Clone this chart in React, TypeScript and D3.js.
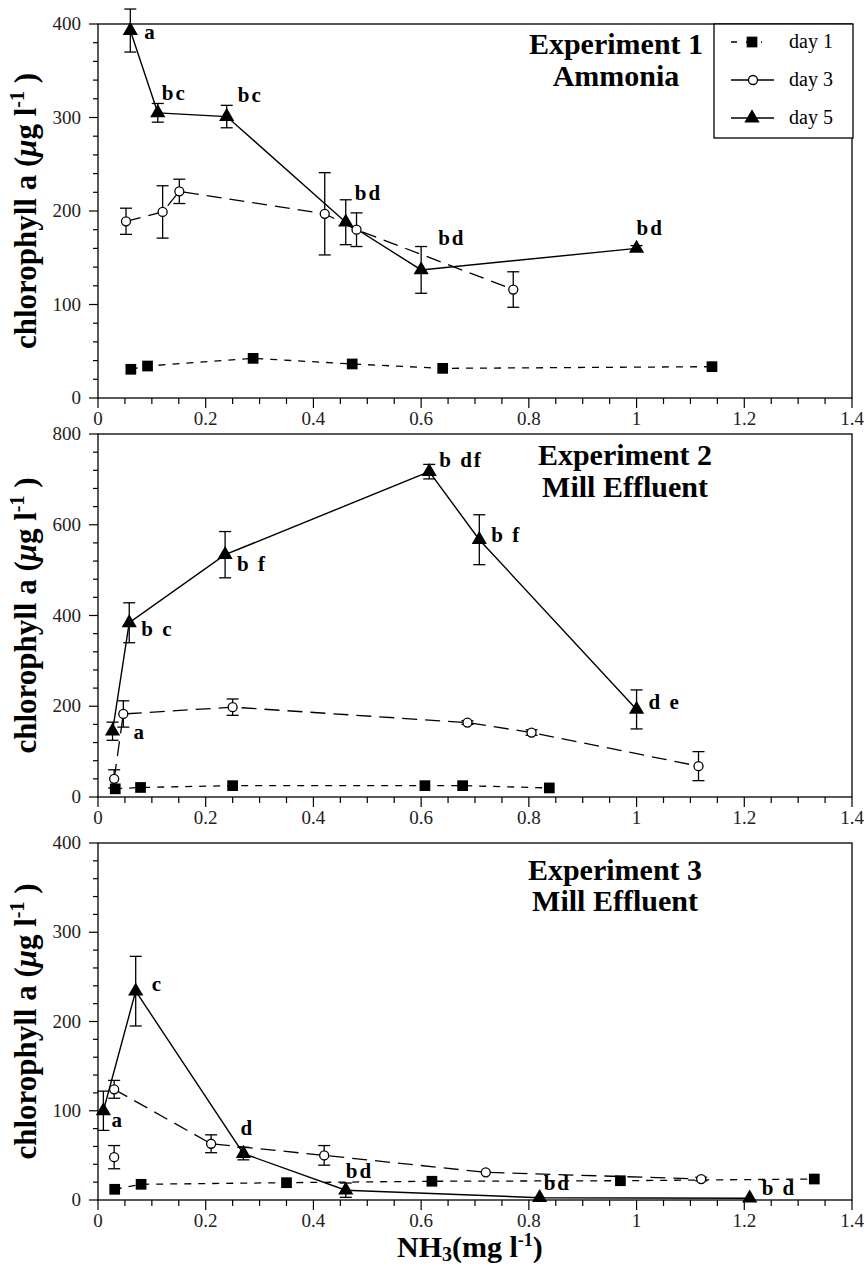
import React from 'react';
import * as d3 from 'd3';

// ---------- shared axis data ----------
const xTickValues = [0, 0.2, 0.4, 0.6, 0.8, 1, 1.2, 1.4];
const xTickLabels = ['0', '0.2', '0.4', '0.6', '0.8', '1', '1.2', '1.4'];
const dayNames = ['day 1', 'day 3', 'day 5'];

// ---------- Experiment 1 : Ammonia ----------
const e1Title = ['Experiment 1', 'Ammonia'];
const e1YTicks = [0, 100, 200, 300, 400];
const e1Day1X = [0.061, 0.092, 0.288, 0.472, 0.64, 1.14];
const e1Day1Y = [30.7, 34.2, 42.4, 36.4, 31.7, 33.5];
const e1Day3X = [0.052, 0.12, 0.151, 0.421, 0.48, 0.771];
const e1Day3Y = [189, 199, 221, 197, 180, 116];
const e1Day3Err = [14, 28, 13, 44, 18, 19];
const e1Day5X = [0.06, 0.111, 0.239, 0.46, 0.6, 1.0];
const e1Day5Y = [393, 305, 301, 188, 137, 160];
const e1Day5Err = [23, 10, 12, 24, 25, 3];
const e1Day5Labels = ['a', 'bc', 'bc', 'bd', 'bd', 'bd'];

// ---------- Experiment 2 : Mill Effluent ----------
const e2Title = ['Experiment 2', 'Mill Effluent'];
const e2YTicks = [0, 200, 400, 600, 800];
const e2Day1X = [0.032, 0.079, 0.25, 0.607, 0.677, 0.838];
const e2Day1Y = [18, 21, 25, 25, 25, 20];
const e2Day3X = [0.03, 0.047, 0.25, 0.686, 0.805, 1.115];
const e2Day3Y = [40, 183, 198, 164, 142, 68];
const e2Day3Err = [20, 29, 18, 4, 6, 32];
const e2Day5X = [0.027, 0.058, 0.236, 0.615, 0.708, 1.0];
const e2Day5Y = [145, 384, 534, 717, 567, 193];
const e2Day5Err = [20, 44, 51, 16, 55, 43];
const e2Day5Labels = ['a', 'b c', 'b f', 'b df', 'b f', 'd e'];

// ---------- Experiment 3 : Mill Effluent ----------
const e3Title = ['Experiment 3', 'Mill Effluent'];
const e3YTicks = [0, 100, 200, 300, 400];
const e3Day1X = [0.031, 0.08, 0.35, 0.62, 0.97, 1.33];
const e3Day1Y = [12, 17.6, 19.4, 21, 21.6, 23.5];
const e3Day3X = [0.03, 0.03, 0.21, 0.42, 0.72, 1.12];
const e3Day3Y = [48, 124, 63, 50, 31, 23.5];
const e3Day3Err = [13, 10, 10, 11, 0, 2];
const e3Day3LineStart = 1; // first replicate point is not joined by the line
const e3Day5X = [0.01, 0.07, 0.27, 0.46, 0.82, 1.21];
const e3Day5Y = [100, 234, 52, 11, 2.6, 2];
const e3Day5Err = [22, 39, 7, 8, 0, 0];
const e3Day5Labels = ['a', 'c', 'd', 'bd', 'bd', 'b d'];

// ---------- layout (positions / styles) ----------
const W = 867;
const H = 1266;
const X0 = 98;
const X1 = 852;
const FONT = 'Liberation Serif, Tinos, DejaVu Serif, serif';

const panelLayouts = [
  { top: 24, bottom: 398, yMinorStep: 20, titleX: 616, titleY: [54, 86],
    labelOff: [[14, 8], [4, -13], [11, -15], [9, -22], [17, -25], [0, -13]] },
  { top: 434, bottom: 797, yMinorStep: 40, titleX: 625, titleY: [465, 497],
    labelOff: [[21, 8], [12, 13], [12, 16], [10, -5], [12, 2], [12, 0]] },
  { top: 843, bottom: 1200, yMinorStep: 20, titleX: 615, titleY: [880, 911],
    labelOff: [[8, 16], [16, 0], [-3, -19], [0, -12], [4, -8], [12, -3]] },
];

const experiments = [
  { title: e1Title, yTicks: e1YTicks,
    d1: [e1Day1X, e1Day1Y], d3: [e1Day3X, e1Day3Y, e1Day3Err], d3Start: 0,
    d5: [e1Day5X, e1Day5Y, e1Day5Err], labels: e1Day5Labels },
  { title: e2Title, yTicks: e2YTicks,
    d1: [e2Day1X, e2Day1Y], d3: [e2Day3X, e2Day3Y, e2Day3Err], d3Start: 0,
    d5: [e2Day5X, e2Day5Y, e2Day5Err], labels: e2Day5Labels },
  { title: e3Title, yTicks: e3YTicks,
    d1: [e3Day1X, e3Day1Y], d3: [e3Day3X, e3Day3Y, e3Day3Err], d3Start: e3Day3LineStart,
    d5: [e3Day5X, e3Day5Y, e3Day5Err], labels: e3Day5Labels },
];

const triPath = d3.symbol().type(d3.symbolTriangle).size(100)() as string;
const sqPath = d3.symbol().type(d3.symbolSquare).size(115)() as string;

const DASH1 = '7,7';
const DASH3 = '15,8';

const serif = { fontFamily: FONT } as React.CSSProperties;

function YTitle({ cy }: { cy: number }) {
  return (
    <text
      transform={`translate(36,${cy}) rotate(-90)`}
      textAnchor="middle"
      style={serif}
      fontWeight="bold"
      fontSize={31}
    >
      chlorophyll a (<tspan fontStyle="italic">μ</tspan>g l
      <tspan fontSize={20} dy={-12}>-1</tspan>
      <tspan dy={12}> )</tspan>
    </text>
  );
}

function Panel({ L, E }: { L: any; E: any }) {
  const x = d3.scaleLinear().domain([0, 1.4]).range([X0, X1]);
  const yMax = E.yTicks[E.yTicks.length - 1];
  const y = d3.scaleLinear().domain([0, yMax]).range([L.bottom, L.top]);

  const xMinor = d3.range(0, 1.4001, 0.05).filter((v) => Math.abs(v / 0.2 - Math.round(v / 0.2)) > 1e-6);
  const yMinor = d3.range(0, yMax + 0.001, L.yMinorStep).filter((v) => !E.yTicks.includes(v));

  const pts = (xs: number[], ys: number[]) => xs.map((v, i) => [v, ys[i]] as [number, number]);
  const line = d3.line<[number, number]>().x((d) => x(d[0])).y((d) => y(d[1]));

  const d1 = pts(E.d1[0], E.d1[1]);
  const d3p = pts(E.d3[0], E.d3[1]);
  const d5 = pts(E.d5[0], E.d5[1]);

  const errBars = (xs: number[], ys: number[], es: number[], key: string) =>
    xs.map((v, i) => {
      if (!es[i]) return null;
      const cx = x(v);
      const yt = y(ys[i] + es[i]);
      const yb = y(ys[i] - es[i]);
      return (
        <g key={key + i} stroke="#000" strokeWidth={1.3}>
          <line x1={cx} x2={cx} y1={yt} y2={yb} />
          <line x1={cx - 6} x2={cx + 6} y1={yt} y2={yt} />
          <line x1={cx - 6} x2={cx + 6} y1={yb} y2={yb} />
        </g>
      );
    });

  return (
    <g>
      <rect x={X0} y={L.top} width={X1 - X0} height={L.bottom - L.top} fill="none" stroke="#000" strokeWidth={1.3} />
      {xTickValues.map((v, i) => (
        <g key={'xt' + i}>
          <line x1={x(v)} x2={x(v)} y1={L.bottom} y2={L.bottom + 10} stroke="#000" strokeWidth={1.2} />
          <text x={x(v)} y={L.bottom + 27} textAnchor="middle" style={serif} fontSize={19} fill="#222">
            {xTickLabels[i]}
          </text>
        </g>
      ))}
      {xMinor.map((v, i) => (
        <line key={'xm' + i} x1={x(v)} x2={x(v)} y1={L.bottom} y2={L.bottom + 6} stroke="#000" strokeWidth={1.2} />
      ))}
      {E.yTicks.map((v: number, i: number) => (
        <g key={'yt' + i}>
          <line x1={X0 - 9} x2={X0} y1={y(v)} y2={y(v)} stroke="#000" strokeWidth={1.2} />
          <text x={81} y={y(v) + 6} textAnchor="end" style={serif} fontSize={19} fill="#222">
            {String(v)}
          </text>
        </g>
      ))}
      {yMinor.map((v, i) => (
        <line key={'ym' + i} x1={X0 - 5} x2={X0} y1={y(v)} y2={y(v)} stroke="#000" strokeWidth={1.2} />
      ))}

      {E.title.map((t: string, i: number) => (
        <text key={'ti' + i} x={L.titleX} y={L.titleY[i]} textAnchor="middle" style={serif} fontWeight="bold" fontSize={30}>
          {t}
        </text>
      ))}

      <path d={line(d1) as string} fill="none" stroke="#000" strokeWidth={1.3} strokeDasharray={DASH1} />
      <path d={line(d3p.slice(E.d3Start)) as string} fill="none" stroke="#000" strokeWidth={1.3} strokeDasharray={DASH3} />
      <path d={line(d5) as string} fill="none" stroke="#000" strokeWidth={1.4} />

      {errBars(E.d3[0], E.d3[1], E.d3[2], 'e3')}
      {errBars(E.d5[0], E.d5[1], E.d5[2], 'e5')}

      {d1.map((p, i) => (
        <path key={'s' + i} d={sqPath} transform={`translate(${x(p[0])},${y(p[1])})`} fill="#000" />
      ))}
      {d3p.map((p, i) => (
        <circle key={'c' + i} cx={x(p[0])} cy={y(p[1])} r={4.5} fill="#fff" stroke="#000" strokeWidth={1.3} />
      ))}
      {d5.map((p, i) => (
        <path key={'t' + i} d={triPath} transform={`translate(${x(p[0])},${y(p[1])})`} fill="#000" />
      ))}

      {d5.map((p, i) => (
        <text
          key={'l' + i}
          x={x(p[0]) + L.labelOff[i][0]}
          y={y(p[1]) + L.labelOff[i][1]}
          style={{ ...serif, whiteSpace: 'pre' }}
          fontWeight="bold"
          fontSize={21}
          letterSpacing={2}
        >
          {E.labels[i]}
        </text>
      ))}

      <YTitle cy={(L.top + L.bottom) / 2} />
    </g>
  );
}

function Legend() {
  const lx0 = 714;
  const lx1 = 853;
  const top = 24;
  const bottom = 138;
  const rows = [42, 80, 118];
  return (
    <g>
      <rect x={lx0} y={top} width={lx1 - lx0} height={bottom - top} fill="#fff" stroke="#000" strokeWidth={1.3} />
      <line x1={731} x2={762} y1={rows[0]} y2={rows[0]} stroke="#000" strokeWidth={1.3} strokeDasharray="6,9" />
      <path d={sqPath} transform={`translate(752,${rows[0]})`} fill="#000" />
      <line x1={731} x2={774} y1={rows[1]} y2={rows[1]} stroke="#000" strokeWidth={1.3} />
      <circle cx={753} cy={rows[1]} r={4.5} fill="#fff" stroke="#000" strokeWidth={1.3} />
      <line x1={731} x2={774} y1={rows[2]} y2={rows[2]} stroke="#000" strokeWidth={1.3} />
      <path d={triPath} transform={`translate(752,${rows[2]})`} fill="#000" />
      {dayNames.map((n, i) => (
        <text key={n} x={789} y={rows[i] + 6} style={serif} fontSize={20}>
          {n}
        </text>
      ))}
    </g>
  );
}

export default function App() {
  return (
    <svg
      width={W}
      height={H}
      viewBox={`0 0 ${W} ${H}`}
      style={{ position: 'absolute', left: 0, top: 0, background: '#fff' }}
    >
      <rect x={0} y={0} width={W} height={H} fill="#fff" />
      {panelLayouts.map((L, i) => (
        <Panel key={i} L={L} E={experiments[i]} />
      ))}
      <Legend />
      <text x={397} y={1257} style={serif} fontWeight="bold" fontSize={30}>
        NH<tspan fontSize={20} dy={4}>3</tspan>
        <tspan dy={-4}>(mg l</tspan>
        <tspan fontSize={18} dy={-11}>-1</tspan>
        <tspan dy={11}>)</tspan>
      </text>
    </svg>
  );
}
